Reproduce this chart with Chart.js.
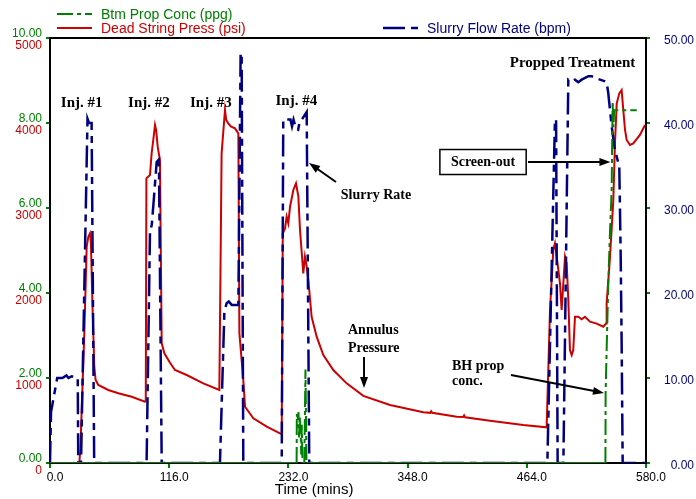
<!DOCTYPE html>
<html>
<head>
<meta charset="utf-8">
<title>Injection tests and propped treatment</title>
<script src="https://cdn.jsdelivr.net/npm/chart.js@4.4.0/dist/chart.umd.min.js"></script>
<style>
  html, body { margin: 0; padding: 0; background: #fff; }
  #wrap { width: 696px; height: 499px; position: relative; }
</style>
</head>
<body>
<div id="wrap"><canvas id="chart"></canvas></div>
<script>
// all times in minutes
const pressTime = [0, 28.5, 29.5, 33.4, 35.7, 37.3, 38.9, 39.8, 41.2, 43.1, 44.4, 47, 56.7, 66.5, 79.5, 92.4,
  93.2, 93.8, 97.3, 98.9, 100.5, 102.2, 103.3, 104.8, 107, 108.7, 111.3, 116.8, 121.6, 133, 149.2, 164.8,
  165.4, 167, 170.3, 171.5, 173.5, 176, 180, 183.3, 184.3, 188.1, 189.8, 197.9, 210.9, 223.8,
  225.5, 226.5, 228.7, 230.3, 231.9, 233.6, 236.8, 239.4, 241.7, 243.3, 246.5, 248.1, 249.8, 251.4, 254.6,
  259.5, 266, 275.7, 288.7, 304.9, 330.9, 363.3, 370, 371, 372, 395.8, 402, 403, 404, 428.2, 460.6, 483.3,
  484.9, 486.6, 489.8, 491.4, 493.1, 496.3, 497.9, 501.2, 502.8, 504.4, 506, 507.7, 509.2, 510.9, 514.1,
  517.4, 520.6, 525.5, 532, 538.5, 541.1, 541.7, 545, 548.2, 549.8, 551.5, 554, 556.3, 557.9, 559.6, 561.2,
  564.4, 567.6, 574.1, 579];
const pressPsi = [0, 0, 150, 1526, 2545, 2662, 2702, 2600, 1918, 1133, 976, 918, 859, 820, 780, 722,
  725, 3349, 3388, 3643, 3800, 3976, 3917, 3721, 3565, 1408, 1290, 1180, 1094, 1035, 937, 859,
  859, 3643, 4153, 4035, 3996, 3960, 3937, 3878, 1526, 976, 662, 525, 427, 349,
  340, 2700, 2760, 2898, 2820, 3016, 3212, 3290, 3133, 2741, 2231, 2427, 2310, 2153, 1720,
  1486, 1270, 1094, 937, 790, 682, 596, 590, 608, 590, 545, 542, 560, 538, 498, 447, 420,
  1094, 1800, 2506, 2584, 2427, 2114, 1800, 2427, 2350, 1918, 1329, 1271, 1329, 1721, 1721,
  1690, 1721, 1662, 1640, 1604, 1640, 1879, 2427, 3094, 3761, 4231, 4349, 4388, 4153, 3918, 3800,
  3741, 3760, 3860, 3976];

const rateTime = [0, 1, 7, 12, 16, 18, 21, 27, 27.5, 30.2, 36.5, 38, 40.5, 43,
  94, 97.3, 99, 100.5, 103.8, 106, 108.7,
  165.4, 169.7, 171.9, 174, 176.8, 183.3, 185.5, 186.5, 188.1,
  225.5, 227, 234, 235.5, 237, 239.5, 241.5, 243, 245, 249.8, 252.3,
  484, 491.4, 492.5, 494, 499.6, 504.4, 507.6, 510.9, 514.1, 517.4, 523.9, 527.1, 530.4, 535.2, 540.1,
  541.7, 543.3, 546.6, 549.8, 554, 555.3, 556.3, 557.3, 580];
const rateBpm = [0, 6, 10, 10, 10.3, 10, 10.2, 10, 0, 0, 40.5, 40, 40, 0,
  0, 27.2, 28, 30.2, 35.4, 35.7, 0,
  0, 17.8, 18.8, 19, 18.6, 18.6, 48.2, 48.2, 0,
  0, 40.4, 40.4, 39.6, 40.4, 39.3, 39.2, 40.2, 40.4, 41.3, 0,
  0, 40.4, 40.4, 0, 0, 45.1, 44.9, 45.1, 44.8, 45.1, 45.5, 45.5, 45.3, 45.1, 44.9,
  44.8, 43.5, 39.6, 36.8, 34.9, 25.1, 14.1, 0, 0];

const propTime = [0, 240, 240.2, 241, 241.8, 242.4, 243, 243.8, 244.5, 245, 245.7, 247.5, 248.6, 249.6,
  540.5, 540.7, 541.7, 543.3, 544.9, 546.6, 547.5, 548.3, 549, 571];
const propPpg = [0, 0, 1.15, 1.0, 1.2, 0.6, 1.1, 0.8, 0.2, 0.9, 0, 0, 2.2, 0,
  0, 1.64, 2.66, 4.23, 5.4, 6.42, 8.5, 7.9, 8.3, 8.3];

const timeTicks = [0, 116, 232, 348, 464, 580];
const pressTicks = [0, 1000, 2000, 3000, 4000, 5000];
const concTicks = [0, 2, 4, 6, 8, 10];
const rateTicks = [0, 10, 20, 30, 40, 50];

const RED = "#cc0000";
const GREEN = "#008000";
const NAVY = "#000080";

// callouts, placed in (time, psi) units
const notes = [
  { text: "Inj. #1", t: 30.8, p: 4232, size: 15 },
  { text: "Inj. #2", t: 96.3, p: 4232, size: 15 },
  { text: "Inj. #3", t: 156.5, p: 4232, size: 15 },
  { text: "Inj. #4", t: 239.7, p: 4262, size: 15 },
  { text: "Propped Treatment", t: 508.5, p: 4702, size: 15 },
  { text: "Slurry Rate", t: 317.2, p: 3153, size: 14 },
  { text: "Screen-out", t: 421.4, p: 3541, size: 14, boxed: true },
  { text: "Annulus", t: 290, p: 1565, size: 14, align: "left" },
  { text: "Pressure", t: 290, p: 1353, size: 14, align: "left" },
  { text: "BH prop", t: 391.2, p: 1141, size: 14, align: "left" },
  { text: "conc.", t: 391.2, p: 965, size: 14, align: "left" },
];
const arrows = [
  [278.3, 3306, 252.1, 3529],
  [465.2, 3541, 545.4, 3541],
  [305.6, 1247, 305.6, 882],
  [448.6, 1035, 539.1, 824],
];

Chart.defaults.font.family = "'Liberation Sans', Arial, sans-serif";

const zip = (xs, ys) => xs.map((v, i) => ({ x: v, y: ys[i] }));
const setTicks = (vals) => (scale) => { scale.ticks = vals.map(v => ({ value: v })); };
// runs along zero look solid in the original
const solidOnZero = (c) => (c.p0.parsed.y === 0 && c.p1.parsed.y === 0) ? [] : undefined;

const extras = {
  id: "extras",
  afterDatasetsDraw(chart) {
    const { ctx, scales: { x, y } } = chart;
    ctx.save();
    ctx.fillStyle = "#000";
    ctx.strokeStyle = "#000";
    ctx.textBaseline = "middle";
    notes.forEach(n => {
      ctx.font = "bold " + n.size + "px 'Liberation Serif', 'Times New Roman', serif";
      ctx.textAlign = n.align || "center";
      const px = x.getPixelForValue(n.t), py = y.getPixelForValue(n.p);
      ctx.fillText(n.text, px, py);
      if (n.boxed) {
        const w = ctx.measureText(n.text).width + 22;
        ctx.lineWidth = 1.5;
        ctx.strokeRect(px - w / 2, py - 12.5, w, 25);
      }
    });
    ctx.lineWidth = 2;
    arrows.forEach(([t0, p0, t1, p1]) => {
      const x0 = x.getPixelForValue(t0), y0 = y.getPixelForValue(p0);
      const x1 = x.getPixelForValue(t1), y1 = y.getPixelForValue(p1);
      const a = Math.atan2(y1 - y0, x1 - x0), c = Math.cos(a), s = Math.sin(a);
      ctx.beginPath();
      ctx.moveTo(x0, y0);
      ctx.lineTo(x1 - 6 * c, y1 - 6 * s);
      ctx.stroke();
      ctx.beginPath();
      ctx.moveTo(x1, y1);
      ctx.lineTo(x1 - 11 * c + 4 * s, y1 - 11 * s - 4 * c);
      ctx.lineTo(x1 - 11 * c - 4 * s, y1 - 11 * s + 4 * c);
      ctx.closePath();
      ctx.fill();
    });
    ctx.restore();
  },
  afterDraw(chart) {
    const { ctx, chartArea: area } = chart;
    ctx.save();
    // top frame line
    ctx.strokeStyle = "#000";
    ctx.lineWidth = 2;
    ctx.beginPath();
    ctx.moveTo(area.left, area.top);
    ctx.lineTo(area.right, area.top);
    ctx.stroke();

    // green labels sharing the left axis with pressure
    const yC = chart.scales.yC;
    ctx.font = "12px 'Liberation Sans', Arial, sans-serif";
    ctx.fillStyle = GREEN;
    ctx.textAlign = "right";
    ctx.textBaseline = "middle";
    concTicks.forEach(v => ctx.fillText(v.toFixed(2), area.left - 8, yC.getPixelForValue(v) - 4));

    // axis title, sits left of centre in the original
    ctx.fillStyle = "#000";
    ctx.textAlign = "center";
    ctx.font = "15px 'Liberation Sans', Arial, sans-serif";
    ctx.fillText("Time (mins)", chart.scales.x.getPixelForValue(257), 490);

    // legend
    const spots = [[0, 57, 14], [2, 57, 28], [1, 383, 28]];
    ctx.font = "14px 'Liberation Sans', Arial, sans-serif";
    ctx.textAlign = "left";
    spots.forEach(([i, lx, ly]) => {
      const ds = chart.data.datasets[i];
      ctx.strokeStyle = ds.borderColor;
      ctx.lineWidth = ds.borderWidth;
      ctx.setLineDash(ds.borderDash || []);
      ctx.beginPath();
      ctx.moveTo(lx, ly);
      ctx.lineTo(lx + 35, ly);
      ctx.stroke();
      ctx.setLineDash([]);
      ctx.fillStyle = ds.borderColor;
      ctx.fillText(ds.label, lx + 44, ly + 1);
    });
    ctx.restore();
  }
};

new Chart(document.getElementById("chart"), {
  type: "line",
  data: {
    datasets: [
      {
        label: "Btm Prop Conc (ppg)",
        data: zip(propTime, propPpg),
        yAxisID: "yC",
        borderColor: GREEN,
        borderWidth: 2,
        borderDash: [16, 4, 4, 4],
        segment: { borderDash: solidOnZero },
        order: 0,
      },
      {
        label: "Slurry Flow Rate (bpm)",
        data: zip(rateTime, rateBpm),
        yAxisID: "yQ",
        borderColor: NAVY,
        borderWidth: 2.5,
        borderDash: [22, 6, 7, 6],
        order: 1,
      },
      {
        label: "Dead String Press (psi)",
        data: zip(pressTime, pressPsi),
        yAxisID: "y",
        borderColor: RED,
        borderWidth: 2,
        order: 2,
      },
    ],
  },
  options: {
    responsive: true,
    maintainAspectRatio: false,
    animation: false,
    events: [],
    layout: { padding: { top: 38, right: 2, left: 0, bottom: 0 } },
    elements: {
      point: { radius: 0 },
      line: { tension: 0 },
    },
    plugins: {
      legend: { display: false },
      tooltip: { enabled: false },
    },
    scales: {
      x: {
        type: "linear",
        min: 0,
        max: 580,
        afterBuildTicks: setTicks(timeTicks),
        border: { color: "#000", width: 2 },
        grid: { drawOnChartArea: false, color: GREEN, lineWidth: 2, tickLength: 5 },
        ticks: {
          color: "#000",
          font: { size: 12 },
          padding: 2,
          labelOffset: 5,
          maxRotation: 0,
          autoSkip: false,
          callback: (v) => v.toFixed(1),
        },
        afterFit: (s) => { s.height = 36; },
      },
      y: {
        position: "left",
        min: 0,
        max: 5000,
        afterBuildTicks: setTicks(pressTicks),
        border: { color: "#000", width: 2 },
        grid: { drawOnChartArea: false, color: GREEN, lineWidth: 2, tickLength: 4 },
        ticks: {
          color: RED,
          font: { size: 12 },
          padding: 4,
          labelOffset: 8,
          callback: (v) => String(v),
        },
        afterFit: (s) => { s.width = 50; },
      },
      yC: {
        display: false,
        position: "left",
        min: 0,
        max: 10,
      },
      yQ: {
        position: "right",
        min: 0,
        max: 50,
        afterBuildTicks: setTicks(rateTicks),
        border: { color: "#000", width: 2 },
        grid: { drawOnChartArea: false, color: GREEN, lineWidth: 2, tickLength: 4 },
        ticks: {
          color: NAVY,
          font: { size: 12 },
          crossAlign: "far",
          labelOffset: 3,
          callback: (v) => v.toFixed(2),
        },
        afterFit: (s) => { s.width = 48; },
      },
    },
  },
  plugins: [extras],
});
</script>
</body>
</html>
